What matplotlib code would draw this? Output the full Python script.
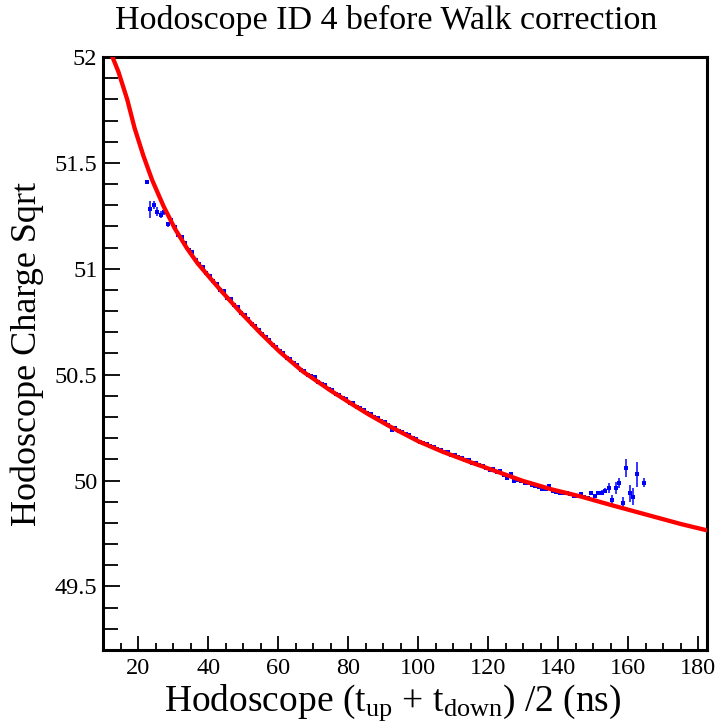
import numpy as np
import matplotlib
matplotlib.use('Agg')
import matplotlib.pyplot as plt
from matplotlib.ticker import MultipleLocator, FuncFormatter

plt.rcParams['font.family'] = 'Liberation Serif'
plt.rcParams['mathtext.fontset'] = 'custom'
plt.rcParams['mathtext.rm'] = 'Liberation Serif'
plt.rcParams['mathtext.it'] = 'Liberation Serif:italic'

# profile bins (1 ns wide), bin 163.5 is empty
t_bins = list(np.arange(22.5, 163.0, 1.0)) + [164.5]

charge = [51.41, 51.28, 51.30, 51.27, 51.255, 51.27, 51.21,
          51.228, 51.196, 51.160, 51.148, 51.122, 51.090, 51.078, 51.040, 51.024, 51.008,
          50.979, 50.968, 50.940, 50.930, 50.902, 50.893, 50.864, 50.856, 50.829, 50.818,
          50.790, 50.781, 50.764, 50.740, 50.731, 50.712, 50.690, 50.680, 50.663, 50.641,
          50.631, 50.610, 50.600, 50.580, 50.572, 50.553, 50.545, 50.524, 50.518, 50.500,
          50.495, 50.487, 50.466, 50.455, 50.450, 50.432, 50.427, 50.410, 50.406, 50.389,
          50.385, 50.368, 50.365, 50.348, 50.343, 50.332, 50.317, 50.312, 50.299, 50.295,
          50.280, 50.276, 50.262, 50.241, 50.248, 50.236, 50.231, 50.218, 50.214, 50.200,
          50.197, 50.184, 50.176, 50.174, 50.163, 50.160, 50.149, 50.146, 50.134, 50.133,
          50.121, 50.120, 50.110, 50.107, 50.097, 50.095, 50.084, 50.082, 50.072, 50.068,
          50.060, 50.050, 50.055, 50.040, 50.045, 50.025, 50.014, 50.030, 50.000, 50.005,
          49.997, 49.990, 49.990, 49.980, 49.975, 49.970, 49.960, 49.958, 49.975, 49.950,
          49.945, 49.943, 49.940, 49.940, 49.935, 49.927, 49.927, 49.935, 49.924, 49.916,
          49.940, 49.928, 49.943, 49.943, 49.952, 49.963, 49.910, 49.965, 49.990, 49.895,
          50.060, 49.940, 49.924, 50.030,
          49.990]

charge_err = ([0.003, 0.042, 0.018, 0.020, 0.016, 0.014, 0.011, 0.010]
              + [0.008] * 10
              + [0.005] * 101
              + [0.006] * 7
              + [0.008, 0.009, 0.009, 0.010, 0.011, 0.012]
              + [0.024, 0.020, 0.028, 0.024, 0.028, 0.043, 0.039, 0.039, 0.059]
              + [0.020])

# walk fit function, sampled
fit_t = [12.7, 14.4, 16.9, 19.0, 21.5, 24.0, 27.3, 30.5, 34.0, 37.0, 40.6, 44.0,
         49.2, 55.0, 60.6, 67.0, 74.9, 80.6, 86.0, 92.1, 100.0, 107.0, 114.9,
         120.7, 130.0, 138.0, 146.4, 155.0, 165.0, 175.0, 182.5]
fit_q = [52.00, 51.93, 51.80, 51.665, 51.535, 51.42, 51.295, 51.19, 51.096, 51.026, 50.956, 50.891,
         50.796, 50.696, 50.606, 50.516, 50.426, 50.366, 50.311, 50.254, 50.186, 50.136, 50.087,
         50.053, 49.998, 49.959, 49.925, 49.885, 49.84, 49.795, 49.765]

fig = plt.figure(figsize=(7.17, 7.26), dpi=100)
ax = fig.add_axes([0.1437, 0.1047, 0.8423, 0.8168])

ax.errorbar(t_bins, charge, yerr=charge_err, xerr=0.5, fmt='s', ms=2.2, mew=0,
            color='blue', ecolor='blue', elinewidth=1.1, capsize=0, zorder=2)
ax.plot(fit_t, fit_q, color='red', lw=3.1, zorder=3)

ax.set_xlim(10, 182.5)
ax.set_ylim(49.2, 52.0)

ax.xaxis.set_major_locator(MultipleLocator(20))
ax.xaxis.set_minor_locator(MultipleLocator(5))
ax.yaxis.set_major_locator(MultipleLocator(0.5))
ax.yaxis.set_minor_locator(MultipleLocator(0.1))
ax.yaxis.set_major_formatter(FuncFormatter(lambda v, p: '%g' % v))
ax.xaxis.set_major_formatter(FuncFormatter(lambda v, p: '%g' % v))

ax.tick_params(which='both', direction='in', top=False, right=False, width=1.3, labelsize=17.5)
ax.tick_params(axis='x', which='major', length=10, pad=6)
ax.tick_params(axis='x', which='minor', length=5)
ax.tick_params(axis='y', which='major', length=12, pad=4)
ax.tick_params(axis='y', which='minor', length=11)

for side in ax.spines.values():
    side.set_linewidth(2.2)

fig.text(0.538, 0.972, 'Hodoscope ID 4 before Walk correction', fontsize=24.5,
         ha='center', va='center')
ax.set_xlabel(r'Hodoscope (t$_{\mathrm{up}}$ + t$_{\mathrm{down}}$) /2 (ns)', fontsize=27, labelpad=2)
ax.xaxis.set_label_coords(0.48, -0.055)
ax.set_ylabel('Hodoscope Charge Sqrt', fontsize=26, labelpad=8)

fig.savefig('out.png', dpi=100)
